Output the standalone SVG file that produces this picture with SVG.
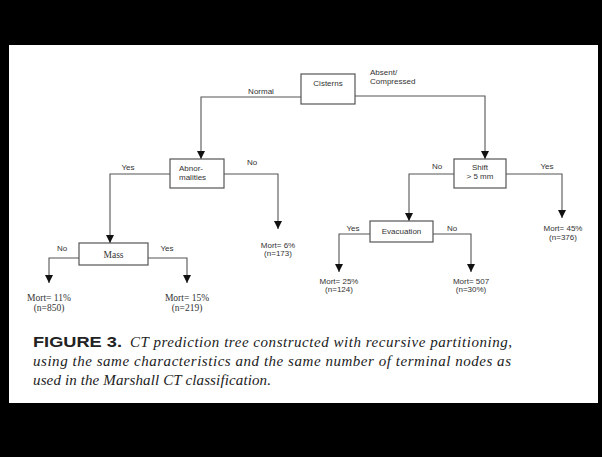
<svg xmlns="http://www.w3.org/2000/svg" width="602" height="457" viewBox="0 0 602 457">
<defs>
<marker id="arr" markerUnits="userSpaceOnUse" markerWidth="10" markerHeight="10" refX="8" refY="4" orient="auto">
<path d="M0,0 L8,4 L0,8 Z" fill="#111"/>
</marker>
</defs>
<style>
.box{fill:#fff;stroke:#555;stroke-width:1.2}
.ln{fill:none;stroke:#555;stroke-width:1.1}
.s{font-family:"Liberation Sans",Arial,sans-serif;font-size:8px;fill:#333}
.m{font-family:"Liberation Serif","Times New Roman",serif;font-size:9.5px;fill:#333}
.c{text-anchor:middle}
.cap{font-family:"Liberation Serif","Times New Roman",serif;font-size:15px;font-style:italic;fill:#222}
.capb{font-family:"Liberation Sans",Arial,sans-serif;font-size:14px;font-weight:bold;fill:#222}
</style>
<rect x="0" y="0" width="602" height="457" fill="#000"/>
<rect x="9" y="45" width="589" height="358" fill="#fff"/>

<g id="connectors">
<path class="ln" d="M301,97 H201 V159" marker-end="url(#arr)"/>
<path class="ln" d="M355,96 H485 V159" marker-end="url(#arr)"/>
<path class="ln" d="M170,174 H110 V243" marker-end="url(#arr)"/>
<path class="ln" d="M224,174 H278 V229" marker-end="url(#arr)"/>
<path class="ln" d="M79,258 H49 V283" marker-end="url(#arr)"/>
<path class="ln" d="M148,258 H187 V283" marker-end="url(#arr)"/>
<path class="ln" d="M454,174 H409 V221" marker-end="url(#arr)"/>
<path class="ln" d="M506,174 H562 V218" marker-end="url(#arr)"/>
<path class="ln" d="M370,234 H339 V272" marker-end="url(#arr)"/>
<path class="ln" d="M433,234 H471 V272" marker-end="url(#arr)"/>
<text class="s c" x="261" y="94">Normal</text>
<text class="s" x="370" y="75">Absent/</text>
<text class="s" x="370" y="84">Compressed</text>
<text class="s c" x="128" y="170">Yes</text>
<text class="s c" x="252" y="165">No</text>
<text class="s c" x="62" y="251">No</text>
<text class="s c" x="167" y="251">Yes</text>
<text class="s c" x="437" y="169">No</text>
<text class="s c" x="547" y="169">Yes</text>
<text class="s c" x="353" y="231">Yes</text>
<text class="s c" x="452" y="231">No</text>
</g>

<g id="cisterns">
<rect class="box" x="301" y="74" width="54" height="30"/>
<text class="s c" x="328" y="86">Cisterns</text>
</g>
<g id="abnormalities">
<rect class="box" x="170" y="159" width="54" height="29"/>
<text class="s" x="179" y="171">Abnor-</text>
<text class="s" x="179" y="180">malities</text>
</g>
<g id="mass">
<rect class="box" x="79" y="243" width="69" height="22"/>
<text class="m c" x="113.5" y="258">Mass</text>
</g>
<g id="shift">
<rect class="box" x="454" y="159" width="52" height="29"/>
<text class="s c" x="480" y="170">Shift</text>
<text class="s c" x="480" y="179">&gt; 5 mm</text>
</g>
<g id="evacuation">
<rect class="box" x="370" y="221" width="63" height="21"/>
<text class="s c" x="401.5" y="234">Evacuation</text>
</g>
<g id="t11">
<text class="m c" x="49" y="301">Mort= 11%</text>
<text class="m c" x="49" y="311">(n=850)</text>
</g>
<g id="t15">
<text class="m c" x="187" y="301">Mort= 15%</text>
<text class="m c" x="187" y="311">(n=219)</text>
</g>
<g id="t6">
<text class="s c" x="278" y="248">Mort= 6%</text>
<text class="s c" x="278" y="256">(n=173)</text>
</g>
<g id="t25">
<text class="s c" x="339" y="284">Mort= 25%</text>
<text class="s c" x="339" y="292">(n=124)</text>
</g>
<g id="t507">
<text class="s c" x="471" y="284">Mort= 507</text>
<text class="s c" x="471" y="292">(n=30%)</text>
</g>
<g id="t45">
<text class="s c" x="563" y="231">Mort= 45%</text>
<text class="s c" x="563" y="240">(n=376)</text>
</g>

<g id="caption">
<text class="capb" x="33" y="347" textLength="89" lengthAdjust="spacingAndGlyphs">FIGURE 3.</text>
<text class="cap" x="130" y="347" textLength="382" lengthAdjust="spacing">CT prediction tree constructed with recursive partitioning,</text>
<text class="cap" x="33" y="366" textLength="478" lengthAdjust="spacing">using the same characteristics and the same number of terminal nodes as</text>
<text class="cap" x="33" y="385" textLength="238" lengthAdjust="spacing">used in the Marshall CT classification.</text>
</g>
</svg>
